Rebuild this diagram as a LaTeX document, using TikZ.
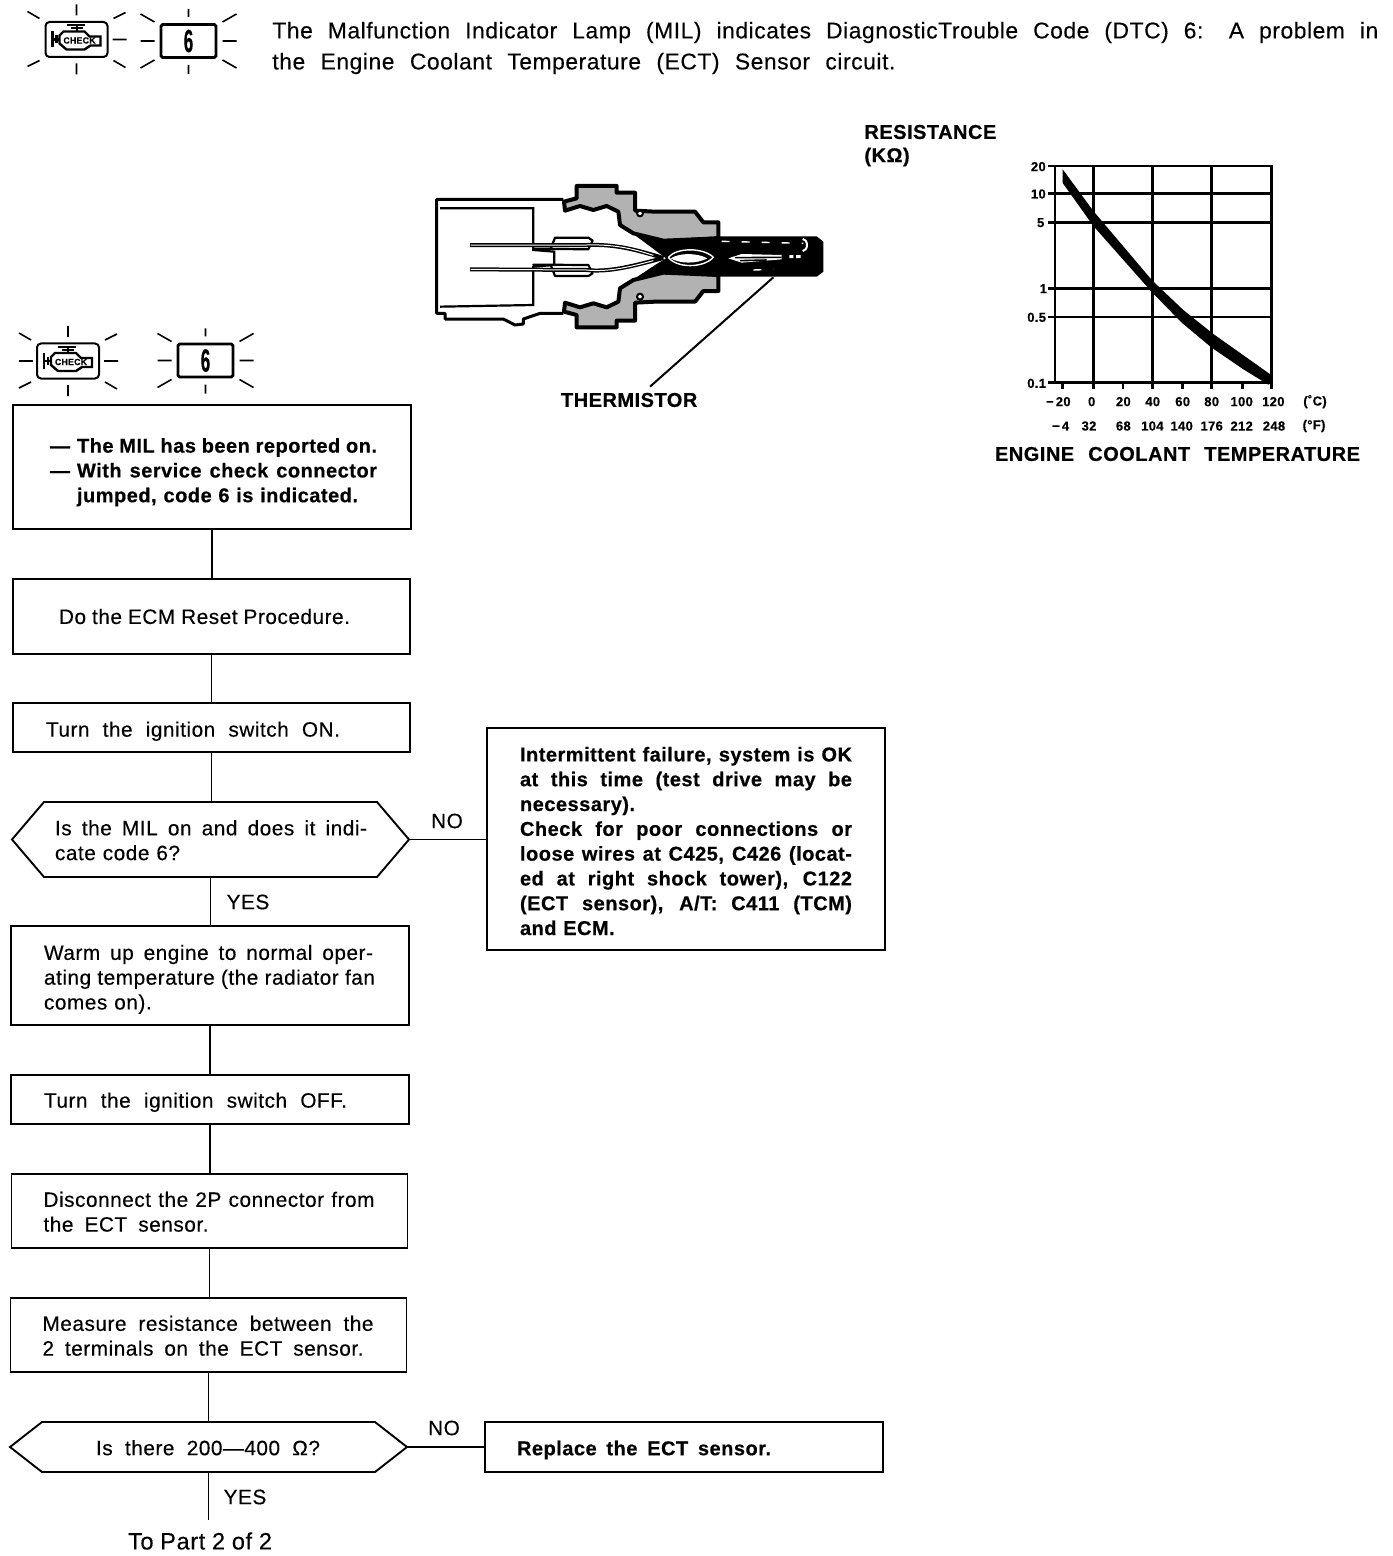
\documentclass[tikz,border=0pt]{standalone}
\usepackage{fontspec}
\usepackage{graphicx}
\setmainfont[LetterSpace=2.5,FakeBold=0.25,BoldFeatures={FakeBold=0.5}]{Liberation Sans}
\usetikzlibrary{calc}
\newcommand\fl[2]{\makebox[\dimexpr #1pt/2\relax][s]{\spaceskip=0pt\xspaceskip=0pt #2}}
\newcommand\tup[1]{\rule{0pt}{#1pt}}
\newcommand\sixbox[3]{%
  \begin{scope}[shift={(#1,#2)}]
    \node[draw,line width=1.4pt,minimum width=27.5pt,minimum height=16.5pt,inner sep=0pt,rounded corners=0.8pt] (#3) at (0,0) {\scalebox{0.85}[1.6]{\bfseries 6}};
    \draw[ray] (0,-32)--(0,-24) (0,24)--(0,33) (-48,0)--(-34,0) (34,0)--(48,0)
      (-48,-27)--(-34,-19) (34,-19)--(48,-27) (-48,27)--(-34,19) (34,19)--(48,27);
  \end{scope}}
\newcommand\milicon[3]{%
  \begin{scope}[shift={(#1,#2)}]
    \node[draw,line width=1pt,minimum width=31pt,minimum height=17.5pt,inner sep=0pt,rounded corners=2pt] (#3) at (0,0) {};
    \draw[line width=1.2pt,fill=white] (-17,-4)--(-13,-8)--(8,-8)--(13,-3)--(24,-3)--(24,6)--(14,6)--(8,10)--(-10,10)--(-17,4)--cycle;
    \node[font=\fontsize{4.4}{5}\bfseries\selectfont,inner sep=0pt] (#3txt) at (3,1) {CHECK};
    \draw[line width=1pt] (-10,-14)--(8,-14) (-6,-11)--(6,-11) (0,-14)--(0,-8);
    \draw[line width=1.1pt] (-24,-8)--(-24,8) (-20,-4)--(-20,4) (-24,0)--(-18,0);
    \draw[ray] (-37,-21)--(-49,-28) (37,-21)--(49,-27) (-37,21)--(-49,27) (37,21)--(49,28)
      (0,-35)--(0,-24) (0,24)--(0,35) (36,0)--(50,0);
  \end{scope}}
\tikzset{
  flow/.style={draw,line width=0.95pt,align=left,outer sep=0pt,inner ysep=0pt,font=\fontsize{10.4}{12.4}\selectfont},
  hexn/.style={align=left,outer sep=0pt,inner ysep=0pt,font=\fontsize{10.4}{12.4}\selectfont},
  hexl/.style={line width=0.95pt},
  conn/.style={line width=0.95pt},
  ray/.style={line width=0.8pt},
  lab/.style={inner sep=0pt,font=\fontsize{10.4}{12}\selectfont},
  blab/.style={inner sep=0pt,font=\fontsize{10}{12}\bfseries\selectfont},
  tick/.style={inner sep=0pt,font=\fontsize{6.5}{7}\bfseries\selectfont},
  grid/.style={line width=1.25pt},
  wire/.style={line width=2pt,black},
  wirein/.style={line width=0.5pt,white},
}
\begin{document}
\begin{tikzpicture}[x=0.5pt,y=-0.5pt]
\useasboundingbox (0,0) rectangle (1392,1556);
\fill[white] (0,0) rectangle (1392,1556);

% header
\node[anchor=west,inner sep=0pt,align=left,font=\fontsize{11.4}{15.5}\selectfont] (hdr) at (272,48)
 {\fl{1106}{The Malfunction Indicator Lamp (MIL) indicates DiagnosticTrouble Code (DTC) 6: A problem in}\\
  \fl{623}{the Engine Coolant Temperature (ECT) Sensor circuit.}};
\milicon{76.5}{39.5}{mila}
\sixbox{188.5}{41}{sixa}
\milicon{68}{361}{milb}
\draw[ray] (19,361)--(33,361);
\sixbox{205.5}{360.5}{sixb}

% flow boxes
\node[flow,font=\fontsize{10}{12.4}\bfseries\selectfont,text width=162pt,inner xsep=18.5pt,minimum height=62pt] (b1) at (212,467)
 {\tup{12.5}\fl{327}{\makebox[13.5pt][l]{—}The MIL has been reported on.}\\
  \fl{327}{\makebox[13.5pt][l]{—}With service check connector}\\
  \hspace*{13.5pt}\fl{281}{jumped, code 6 is indicated.}};
\node[flow,text width=152.5pt,inner xsep=23pt,minimum height=37.5pt] (b2) at (211.5,616.5) {\fl{291}{Do the ECM Reset Procedure.}};
\node[flow,text width=165.5pt,inner xsep=16.5pt,minimum height=24.5pt] (b3) at (211.5,727.5) {\tup{11.3}\fl{294}{Turn the ignition switch ON.}};
\node[hexn,text width=155.5pt,inner xsep=21.5pt,minimum height=37.5pt] (d1) at (210.5,839.5)
 {\tup{8.3}\fl{312}{Is the MIL on and does it indi-}\\cate code 6?};
\draw[hexl] (d1.west) -- ($(d1.north west)+(32,0)$) -- ($(d1.north east)+(-32,0)$) -- (d1.east) -- ($(d1.south east)+(-32,0)$) -- ($(d1.south west)+(32,0)$) -- cycle;
\node[flow,text width=166pt,inner xsep=16.5pt,minimum height=49.5pt] (b4) at (210,975.5)
 {\tup{11.3}\fl{329}{Warm up engine to normal oper-}\\
  \fl{331}{ating temperature (the radiator fan}\\
  comes on).};
\node[flow,text width=166pt,inner xsep=16.5pt,minimum height=24.5pt] (b5) at (210,1099.5) {\tup{10.3}\fl{303}{Turn the ignition switch OFF.}};
\node[flow,text width=166pt,inner xsep=16pt,minimum height=37pt] (b6) at (209.5,1211)
 {\tup{8.3}\fl{331}{Disconnect the 2P connector from}\\\fl{165}{the ECT sensor.}};
\node[flow,text width=166pt,inner xsep=16pt,minimum height=37pt] (b7) at (208.5,1335)
 {\tup{8.3}\fl{331}{Measure resistance between the}\\\fl{321}{2 terminals on the ECT sensor.}};
\node[hexn,inner xsep=43pt,minimum height=25pt,text width=112.5pt] (d2) at (208.5,1447) {\tup{8.3}\fl{224}{Is there 200—400 Ω?}};
\draw[hexl] (d2.west) -- ($(d2.north west)+(32,0)$) -- ($(d2.north east)+(-32,0)$) -- (d2.east) -- ($(d2.south east)+(-32,0)$) -- ($(d2.south west)+(32,0)$) -- cycle;
\node[flow,font=\fontsize{10}{12.4}\bfseries\selectfont,text width=166pt,inner xsep=16.5pt,minimum height=111pt] (r1) at (686,839)
 {\tup{9.3}\fl{332}{Intermittent failure, system is OK}\\
  \fl{332}{at this time (test drive may be}\\
  necessary).\\
  \fl{332}{Check for poor connections or}\\
  \fl{332}{loose wires at C425, C426 (locat-}\\
  \fl{332}{ed at right shock tower), C122}\\
  \fl{332}{(ECT sensor), A/T: C411 (TCM)}\\
  and ECM.};
\node[flow,font=\fontsize{10}{12.4}\bfseries\selectfont,text width=167pt,inner xsep=16pt,minimum height=25pt] (r2) at (684,1447) {\tup{10.3}\fl{254}{Replace the ECT sensor.}};

\coordinate (endc) at (208,1520);
\node[inner sep=0pt,font=\fontsize{11.8}{14}\selectfont] (topart) at (200,1541) {\fl{144}{To Part 2 of 2}};

% connectors
\foreach \a/\b in {b1/b2,b2/b3,b3/d1,d1/b4,b4/b5,b5/b6,b6/b7,b7/d2}
  \draw[conn] (\a.south) -- (\a.south |- \b.north);
\draw[conn] (d2.south) -- (d2.south |- endc);
\draw[conn] (d1.east) -- (r1.west |- d1.east);
\draw[conn] (d2.east) -- (r2.west);
\node[lab] (no1) at (447,821) {NO};
\node[lab] (yes1) at (248,902) {YES};
\node[lab] (no2) at (444,1428) {NO};
\node[lab] (yes2) at (245,1497) {YES};

% sensor drawing: coordinates follow a 3x grid
\begin{scope}[shift={(420,170)},x=0.16667pt,y=-0.16667pt]
  \draw[line width=1.5pt,line join=round] (430,88)--(50,88)--(50,430)--(75,430)--(75,447)--(250,447)--(285,465)--(310,462)--(310,447)--(360,430)--(430,430);
  \draw[line width=1.1pt] (60,115)--(340,115)--(340,240)--(403,245)--(403,285)--(340,290)--(340,405)--(60,410);
  % nuts
  \foreach \s/\o in {1/0,-1/520}{
  \draw[line width=2pt,fill=black!30,line join=round,yscale=\s,yshift=-\o*0.16667pt*\s]
    (432,95)--(470,85)--(470,48)--(590,48)--(590,68)--(645,68)--(645,122)--(705,125)--(825,125)--(850,157)--(895,157)--(895,205)--(780,210)--(730,212)--(640,190)--(600,165)--(595,125)--(560,108)--(520,120)--(480,108)--(435,122)--cycle;}
  \fill[white] (660,130) circle (6);
  \draw[line width=1pt] (660,130) circle (9);
  \fill[white] (660,380) circle (6);
  \draw[line width=1pt] (660,380) circle (9);
  % probe
  \fill[black] (640,192)--(720,210)--(890,199)--(1190,199)--(1210,215)--(1210,305)--(1190,320)--(890,320)--(720,308)--(640,328)--(710,282)--(738,265)--(710,244)--cycle;
  \draw[white,line width=0.7pt] (745,262) .. controls (770,232) and (850,232) .. (880,262) .. controls (850,295) and (770,295) .. (745,262);
  \fill[white] (752,265) .. controls (780,248) and (830,248) .. (862,265) .. controls (830,282) and (780,282) .. (752,265);
  \fill[white] (925,265)--(965,252)--(1085,255)--(1085,268)--(965,278)--cycle;
  \draw[line width=0.8pt] (945,263)--(1085,262) (960,272)--(1040,270);
  \draw[white,line width=0.7pt,dash pattern=on 4pt off 6pt] (905,214)--(1150,220) (1000,300)--(1060,298);
  \fill[white] (1108,255) rectangle (1120,264) (1128,255) rectangle (1142,264);
  \draw[white,line width=1pt] (1148,243) arc (90:-90:13 and 18);
  % wires
  \draw[line width=1.1pt,fill=white,line join=round] (340,236)--(392,236)--(405,203)--(505,203)--(518,212)--(505,238)--cycle;
  \draw[line width=1.1pt,fill=white,line join=round] (340,284)--(392,284)--(405,318)--(505,318)--(518,310)--(505,285)--cycle;
  \draw[wire] (150,225)--(500,225) .. controls (590,222) and (650,240) .. (730,264);
  \draw[wire] (150,298)--(500,300) .. controls (570,308) and (650,285) .. (730,264);
  \draw[wirein] (152,225)--(500,225) .. controls (590,222) and (650,240) .. (700,256);
  \draw[wirein] (152,298)--(500,300) .. controls (570,308) and (650,285) .. (700,272);
  \coordinate (thtip) at (1060,322);
  \coordinate (thend) at (690,650);
\end{scope}
\draw[line width=1pt] (thtip) -- (thend);
\node[blab] (therm) at (632,400) {\fl{142}{THERMISTOR}};

% chart: coordinates follow a 3x grid
\node[blab,anchor=west] (resa) at (864,132) {\fl{136}{RESISTANCE}};
\node[blab,anchor=west] (resb) at (864,157) {\fl{42}{(KΩ)}};
\begin{scope}[shift={(990,150)},x=0.16667pt,y=-0.16667pt]
  \draw[grid] (175,48)--(845,48)--(845,718);
  \draw[grid] (195,48)--(195,698);
  \draw[grid] (175,698)--(845,698);
  \foreach \yy in {130,217,415,501} \draw[grid] (175,\yy)--(845,\yy);
  \foreach \xx in {310,487,665} \draw[line width=1.5pt] (\xx,48)--(\xx,718);
  \foreach \xx in {218,399,577,757} \draw[grid] (\xx,698)--(\xx,718);
  \fill[black] (218,58)--(310,183)--(487,392)--(580,480)--(670,552)--(845,676)--(845,698)--(835,704)--(760,658)--(665,593)--(575,518)--(487,428)--(310,228)--(218,99)--cycle;
  \foreach \nn/\xx/\yy/\tt in {y20/145/50/20,y10/145/132/10,y5/152/218/5,y1/160/416/1,y05/140/502/0.5,y01/140/700/0.1,
    c20/205/755/{−\,20},c0/305/755/0,c40/488/755/40,c2/400/755/20,c60/578/755/60,c80/665/755/80,c100/755/755/100,c120/850/755/120,cu/975/755/{(˚C)},
    f4/212/828/{−\,4},f32/297/828/32,f68/400/828/68,f104/487/828/104,f140/575/828/140,f176/665/828/176,f212/755/828/212,f248/852/828/248,fu/972/828/{(°F)}}
    \node[tick] (\nn) at (\xx,\yy) {\tt};
\end{scope}
\node[blab] (ect) at (1177.5,454) {\fl{365}{ENGINE COOLANT TEMPERATURE}};
\end{tikzpicture}
\end{document}
